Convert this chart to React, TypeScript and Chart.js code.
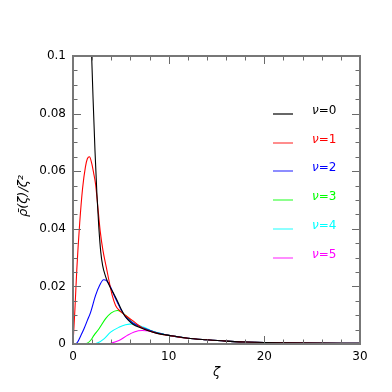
import React, { useEffect, useRef } from "react";
import { Chart, registerables } from "chart.js";

Chart.register(...registerables);

// ---- data ----
const TAIL_X = [10, 12, 14, 16, 18, 20, 22, 25, 30];
const TAIL_Y = [0.003, 0.002, 0.00145, 0.001, 0.0007, 0.0005, 0.0004, 0.0003, 0.0002];

const nu0X = [1.88, 1.95, 2.1, 2.3, 2.5, 2.7, 2.9, 3.1, 3.4, 3.7, 4.0, 4.3, 4.6, 5.0, 5.4, 5.8, 6.3, 7.0, 7.8, 8.8, ...TAIL_X];
const nu0Y = [0.108, 0.1, 0.085, 0.067, 0.052, 0.0405, 0.032, 0.0272, 0.0235, 0.021, 0.019, 0.0172, 0.0152, 0.0123, 0.0098, 0.0082, 0.0068, 0.0057, 0.0047, 0.0037, ...TAIL_Y];

const nu1X = [0, 0.2, 0.4, 0.7, 1.0, 1.3, 1.5, 1.72, 1.95, 2.15, 2.36, 2.6, 2.85, 3.13, 3.48, 3.83, 4.1, 4.45, 4.9, 5.5, 6.2, 6.8, 7.4, 8.2, 9.2, ...TAIL_X];
const nu1Y = [0, 0.012, 0.026, 0.042, 0.054, 0.0615, 0.0643, 0.065, 0.0628, 0.0595, 0.0555, 0.0475, 0.039, 0.0325, 0.0267, 0.0209, 0.0169, 0.0134, 0.0115, 0.0099, 0.0082, 0.0066, 0.0053, 0.0043, 0.0034, ...TAIL_Y];

const nu2X = [0, 0.25, 0.5, 0.8, 1.15, 1.5, 1.84, 2.36, 2.8, 3.2, 3.5, 3.93, 4.3, 4.63, 5.0, 5.5, 6.0, 6.4, 7.0, 7.7, 8.5, 9.3, ...TAIL_X];
const nu2Y = [0, 0, 0.0008, 0.0028, 0.0053, 0.0082, 0.011, 0.0169, 0.0205, 0.0223, 0.022, 0.0198, 0.0168, 0.0145, 0.012, 0.0095, 0.008, 0.007, 0.006, 0.0051, 0.0042, 0.0035, ...TAIL_Y];

const nu3X = [0, 1.0, 1.5, 1.85, 2.19, 2.72, 3.41, 4.0, 4.63, 5.0, 5.5, 6.0, 6.37, 7.0, 7.7, 8.5, 9.3, ...TAIL_X];
const nu3Y = [0, 0, 0.0003, 0.0013, 0.003, 0.0053, 0.0088, 0.0108, 0.01165, 0.0112, 0.0099, 0.0082, 0.007, 0.006, 0.0051, 0.0042, 0.0035, ...TAIL_Y];

const nu4X = [0, 2.2, 2.6, 3.24, 3.93, 4.8, 5.5, 6.37, 7.0, 7.42, 8.0, 8.8, 9.5, ...TAIL_X];
const nu4Y = [0, 0, 0.0004, 0.0018, 0.0041, 0.0058, 0.0067, 0.007, 0.0063, 0.0058, 0.0049, 0.004, 0.0034, ...TAIL_Y];

const nu5X = [0, 3.5, 4.0, 4.8, 5.67, 6.4, 7.24, 8.0, 8.8, 9.5, ...TAIL_X];
const nu5Y = [0, 0, 0.0003, 0.0012, 0.003, 0.0042, 0.0047, 0.0045, 0.0039, 0.0034, ...TAIL_Y];

const seriesLabels = ["0", "1", "2", "3", "4", "5"];
const seriesColors = ["#000000", "#ff0000", "#0000ff", "#00ff00", "#00ffff", "#ff00ff"];
const seriesX = [nu0X, nu1X, nu2X, nu3X, nu4X, nu5X];
const seriesY = [nu0Y, nu1Y, nu2Y, nu3Y, nu4Y, nu5Y];

const xTickLabels = ["0", "10", "20", "30"];
const yTickLabels = ["0", "0.02", "0.04", "0.06", "0.08", "0.1"];

const FONT = "'DejaVu Sans', sans-serif";

const decorPlugin = {
  id: "decor",
  afterDraw(chart: any) {
    const { ctx, chartArea, scales } = chart;
    const { left, right, top, bottom } = chartArea;
    const xs = scales.x;
    const ys = scales.y;
    ctx.save();
    // inward ticks
    ctx.strokeStyle = "#6a6a6a";
    ctx.lineWidth = 1;
    ctx.beginPath();
    for (let v = 0; v <= 30; v += 2) {
      const px = Math.round(xs.getPixelForValue(v)) + 0.5;
      const len = v % 10 === 0 ? 8 : 4.5;
      ctx.moveTo(px, bottom);
      ctx.lineTo(px, bottom - len);
      ctx.moveTo(px, top);
      ctx.lineTo(px, top + len);
    }
    for (let i = 0; i <= 20; i++) {
      const v = i * 0.005;
      const py = Math.round(ys.getPixelForValue(v)) + 0.5;
      const len = i % 4 === 0 ? 8 : 4.5;
      ctx.moveTo(left, py);
      ctx.lineTo(left + len, py);
      ctx.moveTo(right, py);
      ctx.lineTo(right - len, py);
    }
    ctx.stroke();
    // frame
    ctx.strokeStyle = "#777777";
    ctx.lineWidth = 2;
    ctx.strokeRect(left, top, right - left, bottom - top);

    // axis titles
    ctx.fillStyle = "#000";
    ctx.font = `italic 13px ${FONT}`;
    ctx.textAlign = "center";
    ctx.textBaseline = "middle";
    ctx.fillText("ζ", (left + right) / 2, 373);
    ctx.save();
    ctx.translate(24, 196);
    ctx.rotate(-Math.PI / 2);
    ctx.fillText("ρ̄(ζ)/ζ²", 0, 0);
    ctx.restore();

    // legend
    const lx0 = 273;
    const lx1 = 293;
    const ly0 = 114;
    const dy = 28.7;
    seriesLabels.forEach((lab, i) => {
      const y = Math.round(ly0 + i * dy);
      const col = seriesColors[i];
      ctx.globalAlpha = i === 0 ? 1 : 0.75;
      ctx.strokeStyle = col;
      ctx.lineWidth = 1.2;
      ctx.beginPath();
      ctx.moveTo(lx0, y);
      ctx.lineTo(lx1, y);
      ctx.stroke();
      ctx.globalAlpha = 1;
      ctx.fillStyle = col;
      ctx.textAlign = "left";
      ctx.textBaseline = "middle";
      ctx.font = `italic 12px ${FONT}`;
      const tx = 312;
      const ty = y - 3;
      ctx.fillText("ν", tx, ty);
      const w = ctx.measureText("ν").width;
      ctx.font = `12px ${FONT}`;
      ctx.fillText("=" + lab, tx + w, ty);
    });
    ctx.restore();
  },
};

export default function App() {
  const ref = useRef<HTMLCanvasElement | null>(null);
  useEffect(() => {
    document.body.style.margin = "0";
    const canvas = ref.current;
    if (!canvas) return;
    const chart = new Chart(canvas, {
      type: "line",
      data: {
        datasets: seriesX.map((xs, i) => ({
          label: "ν=" + seriesLabels[i],
          data: xs.map((x, j) => ({ x, y: seriesY[i][j] })),
          borderColor: seriesColors[i],
          backgroundColor: seriesColors[i],
          borderWidth: 1.1,
          pointRadius: 0,
          fill: false,
          cubicInterpolationMode: "monotone" as const,
        })),
      },
      options: {
        responsive: false,
        animation: false,
        layout: { padding: { top: 56, right: 32, left: 0, bottom: 0 } },
        plugins: { legend: { display: false }, tooltip: { enabled: false } },
        scales: {
          x: {
            type: "linear",
            min: 0,
            max: 30,
            grid: { display: false, drawTicks: false },
            border: { display: false },
            ticks: {
              stepSize: 10,
              padding: 6,
              color: "#000",
              font: { family: FONT, size: 12 },
              callback: (v: any) => xTickLabels[Math.round(Number(v) / 10)] ?? "",
              maxRotation: 0,
            },
            afterFit: (s: any) => {
              s.height = 48;
            },
          },
          y: {
            type: "linear",
            min: 0,
            max: 0.1,
            grid: { display: false, drawTicks: false },
            border: { display: false },
            ticks: {
              stepSize: 0.02,
              padding: 7,
              color: "#000",
              font: { family: FONT, size: 12 },
              callback: (v: any) => yTickLabels[Math.round(Number(v) / 0.02)] ?? "",
            },
            afterFit: (s: any) => {
              s.width = 73;
            },
          },
        },
      },
      plugins: [decorPlugin],
    } as any);
    return () => chart.destroy();
  }, []);
  return (
    <div style={{ position: "absolute", left: 0, top: 0, width: 392, height: 392, background: "#fff" }}>
      <canvas ref={ref} width={392} height={392} />
    </div>
  );
}
